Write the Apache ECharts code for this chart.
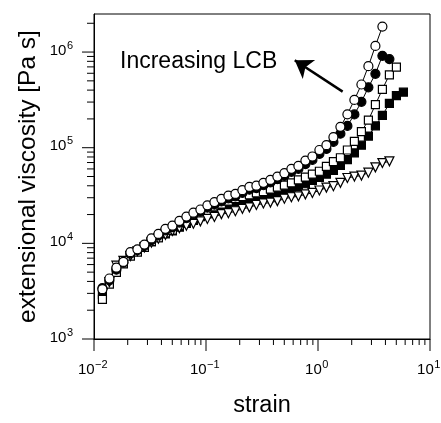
<!DOCTYPE html>
<html>
<head>
<meta charset="utf-8">
<script src="https://cdn.jsdelivr.net/npm/echarts@6/dist/echarts.min.js"></script>
<style>
  html, body { margin: 0; padding: 0; background: #fff; }
  #myChart { width: 441px; height: 423px; }
</style>
</head>
<body>
<div id="myChart"></div>
<script>
// strain sampling (shared by all curves)
var strain = [0.01189, 0.01372, 0.01585, 0.01830, 0.02113, 0.02441, 0.02818, 0.03255, 0.03758, 0.04340,
    0.05012, 0.05788, 0.06683, 0.07718, 0.08913, 0.1029, 0.1189, 0.1373, 0.1585, 0.1830,
    0.2113, 0.2441, 0.2818, 0.3255, 0.3758, 0.4340, 0.5012, 0.5788, 0.6683, 0.7718,
    0.8913, 1.029, 1.189, 1.373, 1.585, 1.830, 2.113, 2.441, 2.818, 3.255,
    3.758, 4.340, 5.012, 5.788];

// extensional viscosity [Pa s]
var openCircle = [3320, 4290, 5570, 6400, 8080, 8660, 9720, 11250, 12550, 14200,
    15300, 17170, 19070, 20920, 22580, 25000, 27000, 29150, 31550, 32900,
    35940, 38900, 40090, 42970, 46050, 49950, 54180, 60130, 64480, 73280,
    80960, 94600, 106200, 128800, 165200, 223300, 316200, 458000, 712400, 1160000,
    1845000];
var filledCircle = [3400, 4100, 5300, 6300, 7800, 8500, 9400, 10800, 12100, 13700,
    14800, 16500, 18300, 20000, 21500, 23600, 25400, 27400, 29600, 31000,
    33700, 36400, 37800, 40500, 43300, 46900, 50800, 56000, 60000, 67500,
    74500, 86000, 97000, 115000, 140000, 169000, 223000, 302000, 428000, 592000,
    914000, 844000];
var openSquare = [2590, 3755, 4962, 6113, 7360, 8077, 9073, 10430, 11440, 12850,
    13780, 15470, 16980, 18200, 19970, 21670, 24050, 25780, 27640, 29290,
    30830, 32150, 33670, 34860, 36940, 38700, 40540, 42970, 46050, 49370,
    52940, 56750, 63740, 71560, 78560, 94580, 116600, 147000, 194200, 281600,
    408200, 578300, 696000];
var filledSquare = [2909, 3933, 5196, 6258, 7534, 8268, 9284, 10430, 11440, 12560,
    13460, 14770, 16210, 17370, 19060, 20680, 22430, 24050, 25780, 27010,
    28290, 29290, 30330, 31410, 32520, 34070, 35680, 37370, 39140, 41980,
    45530, 48810, 52940, 58070, 65230, 74990, 88220, 106200, 132400, 168970,
    218100, 290200, 351100, 380700];
// triangles start at the second strain point
var openTriangle = [3933, 5836, 6553, 7360, 8268, 9073, 10190, 11180, 12270, 13460,
    14430, 15300, 16020, 16980, 17990, 18850, 20210, 20680, 21670, 22960,
    23770, 25190, 26090, 26700, 27640, 29290, 30330, 31040, 32520, 33670,
    35680, 38250, 39610, 42970, 48250, 49950, 51110, 54810, 62290, 69150,
    72100];

// tick labels (10 to the power of ...)
var xTicks = [0.01, 0.1, 1, 10];
var xTickExp = ['\u22122', '\u22121', '0', '1'];
var yTicks = [1000, 10000, 100000, 1000000];
var yTickExp = ['3', '4', '5', '6'];

var xMin = 0.01, xMax = 10;
var yMin = 1000, yMax = 2500000;

var FONT = 'Liberation Sans, Arial, Helvetica, sans-serif';
var BASE_SIZE = 15, SUP_SIZE = 11;

var measureCtx = document.createElement('canvas').getContext('2d');
function textWidth(s, size) {
    measureCtx.font = size + 'px ' + FONT;
    return measureCtx.measureText(s).width;
}

function pairs(xs, ys, start) {
    var out = [];
    for (var i = 0; i < ys.length; i++) out.push([xs[i + start], ys[i]]);
    return out;
}

// tick marks: [x, y, kind]  kind 0 = x major, 1 = x minor, 2 = y major, 3 = y minor
function buildTicks() {
    var t = [], d, m, v;
    for (d = 0.01; d < xMax * 1.01; d *= 10) {
        for (m = 1; m <= 9; m++) {
            v = d * m;
            if (v > xMax * 1.001) break;
            t.push([v, yMin, m === 1 ? 0 : 1]);
        }
    }
    for (d = 1000; d < yMax; d *= 10) {
        for (m = 1; m <= 9; m++) {
            v = d * m;
            if (v > yMax) break;
            t.push([xMin, v, m === 1 ? 2 : 3]);
        }
    }
    return t;
}

// tick labels: [x, y, axis, index]  axis 0 = x, 1 = y
function buildLabels() {
    var t = [], i;
    for (i = 0; i < xTicks.length; i++) t.push([xTicks[i], yMin, 0, i]);
    for (i = 0; i < yTicks.length; i++) t.push([xMin, yTicks[i], 1, i]);
    return t;
}

function txt(x, y, s, size) {
    return {
        type: 'text', x: x, y: y,
        style: {text: s, fontSize: size, fontFamily: FONT, fill: '#000',
            align: 'left', verticalAlign: 'middle'}
    };
}

function lineSeries(name, data, symbol, size, fill, rotate) {
    return {
        name: name,
        type: 'line',
        data: data,
        symbol: symbol,
        symbolSize: size,
        symbolRotate: rotate || 0,
        showSymbol: true,
        showAllSymbol: true,
        lineStyle: {color: '#000', width: 1},
        itemStyle: {color: fill, borderColor: '#000', borderWidth: 1.2},
        emphasis: {disabled: true},
        silent: true,
        z: 3
    };
}

function _initChart() {
    var myChart = echarts.init(document.getElementById('myChart'));
    var circles = lineSeries('open circle', pairs(strain, openCircle, 0), 'circle', 9, '#fff');
    circles.markLine = {
        silent: true,
        symbol: ['none', 'arrow'],
        symbolSize: 17,
        label: {show: false},
        lineStyle: {color: '#000', width: 2.5, type: 'solid'},
        data: [[{coord: [1.66, 386000]}, {coord: [0.62, 820000]}]]
    };
    var w10 = textWidth('10', BASE_SIZE);
    var option = {
        animation: false,
        textStyle: {fontFamily: FONT},
        grid: {
            left: 94, right: 11, top: 14, bottom: 72,
            show: true, borderColor: '#000', borderWidth: 1
        },
        xAxis: {
            type: 'log', logBase: 10, min: xMin, max: xMax,
            name: 'strain', nameLocation: 'middle', nameGap: 55,
            nameTextStyle: {fontSize: 23.5, color: '#000', fontFamily: FONT},
            axisLine: {lineStyle: {color: '#000', width: 1}},
            axisTick: {show: false},
            splitLine: {show: false},
            axisLabel: {show: false}
        },
        yAxis: {
            type: 'log', logBase: 10, min: yMin, max: yMax,
            name: 'extensional viscosity [Pa s]', nameLocation: 'middle', nameGap: 53,
            nameTextStyle: {fontSize: 24.5, color: '#000', fontFamily: FONT},
            axisLine: {lineStyle: {color: '#000', width: 1}},
            axisTick: {show: false},
            splitLine: {show: false},
            axisLabel: {show: false}
        },
        graphic: [{
            type: 'text', left: 120, top: 50,
            style: {text: 'Increasing LCB', font: '23px ' + FONT, fill: '#000'}
        }],
        series: [
            {
                type: 'custom',
                silent: true,
                clip: false,
                data: buildTicks(),
                renderItem: function (params, api) {
                    var kind = api.value(2);
                    var p = api.coord([api.value(0), api.value(1)]);
                    var len = (kind === 0 || kind === 2) ? 12 : (kind === 1 ? 6 : 7);
                    var shape = kind < 2
                        ? {x1: p[0], y1: p[1], x2: p[0], y2: p[1] + len}
                        : {x1: p[0], y1: p[1], x2: p[0] - len, y2: p[1]};
                    return {type: 'line', shape: shape, style: {stroke: '#000', lineWidth: 1}};
                },
                z: 2
            },
            {
                type: 'custom',
                silent: true,
                clip: false,
                data: buildLabels(),
                renderItem: function (params, api) {
                    var axis = api.value(2), i = api.value(3);
                    var p = api.coord([api.value(0), api.value(1)]);
                    var exp = axis === 0 ? xTickExp[i] : yTickExp[i];
                    var we = textWidth(exp, SUP_SIZE);
                    var x0, yb;
                    if (axis === 0) {
                        x0 = p[0] - (w10 + we) / 2 - 1.5;
                        yb = p[1] + 31;
                    } else {
                        x0 = p[0] - 21 - we - w10 - 0.5;
                        yb = p[1] - 1.5;
                    }
                    return {
                        type: 'group',
                        children: [
                            txt(x0, yb, '10', BASE_SIZE),
                            txt(x0 + w10 + 0.5, yb - 5, exp, SUP_SIZE)
                        ]
                    };
                },
                z: 2
            },
            lineSeries('filled square', pairs(strain, filledSquare, 0), 'rect', 8, '#000'),
            lineSeries('open square', pairs(strain, openSquare, 0), 'rect', 8, '#fff'),
            lineSeries('open triangle', pairs(strain, openTriangle, 1), 'triangle', 9, '#fff', 180),
            lineSeries('filled circle', pairs(strain, filledCircle, 0), 'circle', 9, '#000'),
            circles
        ]
    };
    myChart.setOption(option);
}

_initChart();
</script>
</body>
</html>
